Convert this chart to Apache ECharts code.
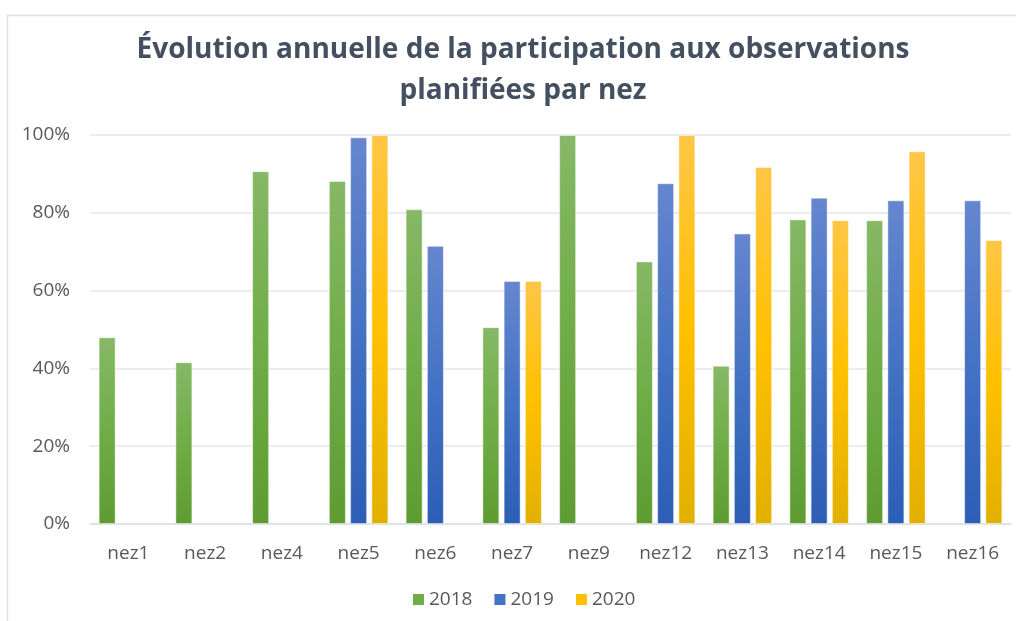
<!DOCTYPE html>
<html>
<head>
<meta charset="utf-8">
<script src="https://cdn.jsdelivr.net/npm/echarts@6/dist/echarts.min.js"></script>
<style>
html,body{margin:0;padding:0;background:#fff;}
#c{width:1016px;height:621px;}
</style>
</head>
<body>
<div id="c"></div>
<script>
const categories = ['nez1','nez2','nez4','nez5','nez6','nez7','nez9','nez12','nez13','nez14','nez15','nez16'];
const seriesNames = ['2018','2019','2020'];
const v2018 = [0.480, 0.416, 0.907, 0.882, 0.809, 0.506, 1.000, 0.675, 0.407, 0.783, 0.781, null];
const v2019 = [null, null, null, 0.994, 0.715, 0.625, null, 0.876, 0.747, 0.839, 0.832, 0.832];
const v2020 = [null, null, null, 1.000, null, 0.625, null, 1.000, 0.918, 0.781, 0.958, 0.730];
const yTicks = [0, 0.2, 0.4, 0.6, 0.8, 1.0];

function grad(top, mid, bot){
  return new echarts.graphic.LinearGradient(0,0,0,1,[
    {offset:0,color:top},{offset:0.5,color:mid},{offset:1,color:bot}
  ]);
}
const palettes = [
  {top:'#86b866', mid:'#70ad47', bot:'#5e9c32', solid:'#70ad47'},
  {top:'#6686cf', mid:'#4472c4', bot:'#2c5eb5', solid:'#4472c4'},
  {top:'#ffc646', mid:'#ffc000', bot:'#e2b000', solid:'#ffc000'}
];
const dataSets = [v2018, v2019, v2020];

const chart = echarts.init(document.getElementById('c'), null, {renderer:'canvas'});
const font = "'Open Sans', 'Noto Sans', sans-serif";
chart.setOption({
  animation:false,
  backgroundColor:'#ffffff',
  textStyle:{fontFamily:font},
  title:{
    text:'Évolution annuelle de la participation aux observations\nplanifiées par nez',
    left:518, top:25, textAlign:'center',
    textStyle:{fontFamily:font, fontSize:28, fontWeight:'bold', color:'#44505f', lineHeight:41}
  },
  graphic:[{
    type:'rect', silent:true, z:-1,
    shape:{x:7.5, y:15.5, width:1100, height:700},
    style:{fill:null, stroke:'#dfe1e8', lineWidth:1.5}
  }],
  legend:{
    data:seriesNames.map((n,i)=>({name:n, itemStyle:{color:palettes[i].solid, borderWidth:0}})),
    left:408, top:585,
    itemWidth:11, itemHeight:11, itemGap:22, icon:'rect',
    textStyle:{fontSize:19, color:'#595959', fontFamily:font}
  },
  grid:{left:90, right:5, top:135, bottom:97, containLabel:false},
  xAxis:{
    type:'category', data:categories,
    axisLine:{lineStyle:{color:'#dde1e8', width:1.5}},
    axisTick:{show:false},
    axisLabel:{fontSize:19, color:'#595959', margin:20, fontFamily:font}
  },
  yAxis:{
    type:'value', min:yTicks[0], max:yTicks[yTicks.length-1], interval:0.2,
    axisLine:{show:false}, axisTick:{show:false},
    splitLine:{lineStyle:{color:'#e3e6ec', width:1.5}},
    axisLabel:{fontSize:19, color:'#595959', margin:20, fontFamily:font,
      formatter:v=>Math.round(v*100)+'%'}
  },
  series: seriesNames.map((n,i)=>({
    name:n, type:'bar', data:dataSets[i],
    barWidth:17, barGap:'25%',
    itemStyle:{color:grad(palettes[i].top, palettes[i].mid, palettes[i].bot),
      borderColor:'rgba(255,255,255,0.45)', borderWidth:1},
  })),
  color: palettes.map(p=>p.solid)
});
</script>
</body>
</html>
